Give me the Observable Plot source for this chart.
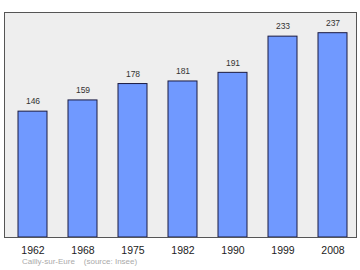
<!DOCTYPE html>
<html><head><meta charset="utf-8">
<script src="https://cdn.jsdelivr.net/npm/d3@7"></script>
<script src="https://cdn.jsdelivr.net/npm/@observablehq/plot@0.6"></script>
<style>
body{margin:0;background:#fff;font-family:"Liberation Sans",Arial,sans-serif;}
#cap{font-size:8px;color:#aaa;margin:-1px 0 0 22px;white-space:pre;line-height:10px;}
</style>
</head><body>
<div id="chart"></div>
<div id="cap">Cailly-sur-Eure    (source: Insee)</div>
<script>
const years = ["1962","1968","1975","1982","1990","1999","2008"];
const population = [146,159,178,181,191,233,237];
const data = years.map((y,i)=>({year:y, pop:population[i]}));
const plot = Plot.plot({
  width:360, height:258,
  marginLeft:7, marginRight:3, marginTop:12, marginBottom:21,
  style:{fontFamily:"Liberation Sans, Arial, sans-serif", background:"transparent"},
  x:{domain:years, paddingInner:0.42, paddingOuter:0.21, label:null},
  y:{domain:[0,261], axis:null},
  marks:[
    Plot.frame({fill:"#eeeeee", stroke:"none", insetLeft:-3, insetRight:1}),
    Plot.barY(data,{x:"year", y:"pop", fill:"#7099ff", stroke:"#1a1a40", strokeWidth:1}),
    Plot.text(data,{x:"year", y:"pop", text:d=>String(d.pop), dy:-10, fontSize:8.5, fill:"#333"}),
    Plot.frame({stroke:"#555", strokeWidth:1, insetLeft:-3, insetRight:1}),
    Plot.axisX({tickSize:0, tickPadding:9, fontSize:10.5, label:null, color:"#222"})
  ]
});
document.getElementById("chart").appendChild(plot);
</script>
</body></html>
